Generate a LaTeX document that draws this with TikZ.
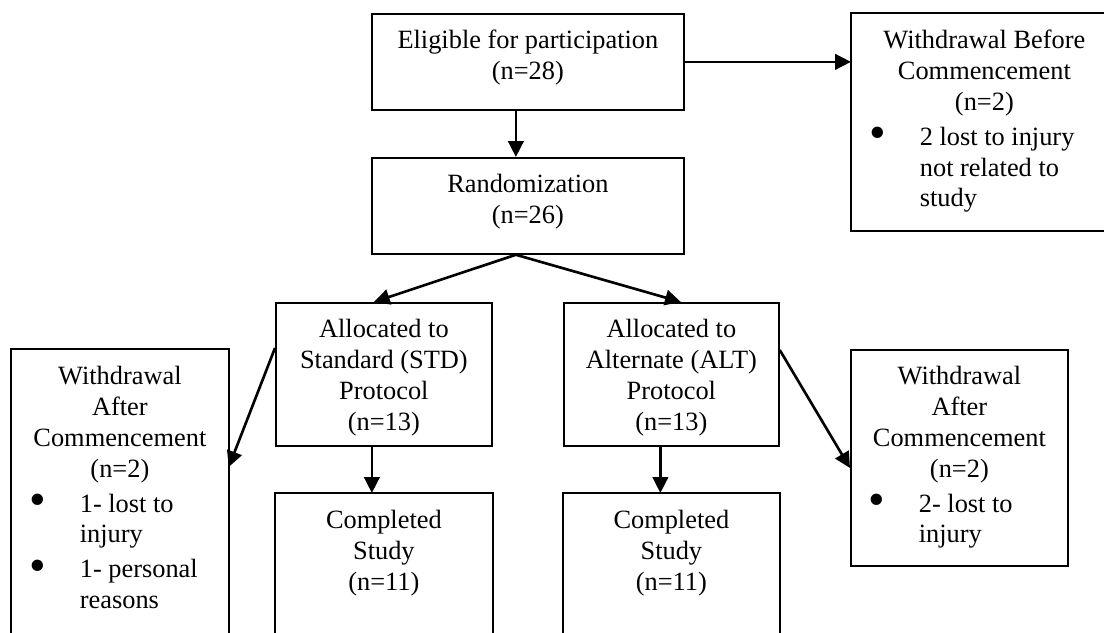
\documentclass[tikz,border=0pt]{standalone}
\usepackage{fontspec}
\setmainfont{Liberation Serif}
\usetikzlibrary{calc,arrows.meta,positioning}
\newlength\px
\setlength\px{0.455pt}
\def\boxtext#1#2#3{\parbox[t][#2\px][t]{#1\px}{\vspace*{6pt}\centering\strut #3}}
\def\bitem#1{\par\vspace{1.5pt}{\raggedright\hangindent=68\px\hangafter=1\noindent\makebox[68\px][l]{\hspace{18\px}\raisebox{-1.8pt}{\scalebox{1.8}{\textbullet}}}#1\par}}
\tikzset{
	box/.style={draw, line width=0.8pt, inner sep=0pt, anchor=north west, font=\fontsize{12}{14.1}\selectfont},
	openbox/.style={box, draw=none},
	edge/.style={line width=0.8pt},
	arr/.style={line width=1.2pt, -{Triangle[length=7.2pt,width=7pt]}}
}

\begin{document}
\begin{tikzpicture}[x=0.455pt, y=-0.455pt]
		%%%%% START %%%%%
		\useasboundingbox (0,0) rectangle (1104,633);
		
		\node[box] (elig) at (371,13) {\boxtext{312}{96}{Eligible for participation\\(n=28)}};
		\node[openbox] (wb) at (851,13) {\boxtext{265}{216}{Withdrawal Before\\Commencement\\(n=2)\bitem{2 lost to injury\newline not related to\newline study}}};
		\node[box] (rand) at (371,157) {\boxtext{312}{96}{Randomization\\(n=26)}};
		
		\node[box] (std) at (275,302) {\boxtext{216}{143}{Allocated to\\Standard (STD)\\Protocol\\(n=13)}};
		\node[box] (alt) at (563,302) {\boxtext{215}{143}{Allocated to\\Alternate (ALT)\\Protocol\\(n=13)}};
		
		\node[openbox] (wl) at (11,349) {\boxtext{216}{284}{Withdrawal\\After\\Commencement\\(n=2)\bitem{1- lost to\newline injury}\bitem{1- personal\newline reasons}}};
		\node[box] (wr) at (850,349) {\boxtext{217}{216}{Withdrawal\\After\\Commencement\\(n=2)\bitem{2- lost to\newline injury}}};
		
		\node[openbox] (cstd) at (275,493) {\boxtext{216}{140}{Completed\\Study\\(n=11)}};
		\node[openbox] (calt) at (563,493) {\boxtext{215}{140}{Completed\\Study\\(n=11)}};
		
		% boxes cut off by the page edge
		\draw[edge] ($(wb.north west)+(253,0)$) -- (wb.north west) -- (wb.south west) -- ($(wb.south west)+(253,0)$);
		\draw[edge] (wl.south west) -- (wl.north west) -- (wl.north east) -- (wl.south east);
		\draw[edge] (cstd.south west) -- (cstd.north west) -- (cstd.north east) -- (cstd.south east);
		\draw[edge] (calt.south west) -- (calt.north west) -- (calt.north east) -- (calt.south east);
		
		\draw[arr] ($(elig.south)+(-12,0)$) -- ($(rand.north)+(-12,0)$);
		\draw[arr] (elig.east) -- (elig.east -| wb.west);
		\draw[arr] ($(rand.south)+(-12,0)$) -- ($(std.north)+(-10,0)$);
		\draw[arr] ($(rand.south)+(-12,0)$) -- ($(alt.north)+(9.5,0)$);
		\draw[arr] ($(std.south)+(-12,0)$) -- ($(cstd.north)+(-12,0)$);
		\draw[arr] ($(alt.south)+(-11,0)$) -- ($(calt.north)+(-11,0)$);
		\draw[arr] ($(std.north west)+(0,46)$) -- ($(wl.north east)+(0,118)$);
		\draw[arr] ($(alt.north east)+(0,48)$) -- ($(wr.north west)+(0,119)$);
		%%%%% END %%%%%
\end{tikzpicture}
\end{document}
